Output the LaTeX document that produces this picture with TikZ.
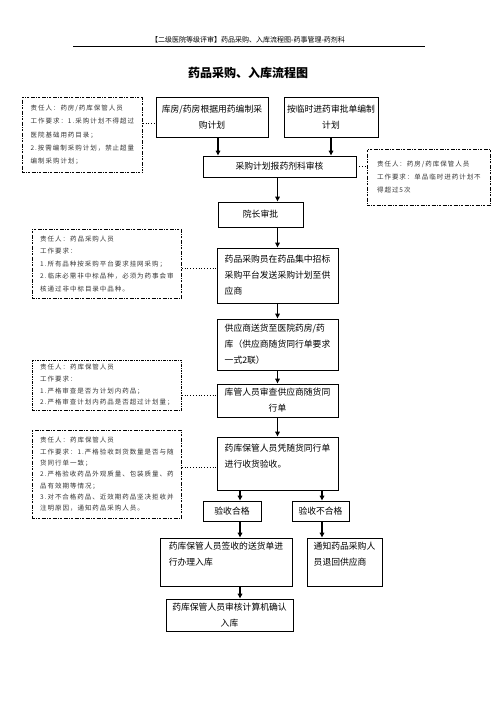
\documentclass[tikz,border=0pt]{standalone}
\usepackage{fontspec}
\setmainfont{Noto Sans CJK SC}
\newfontfamily\notefont[LetterSpace=15]{Noto Sans CJK SC}
\usetikzlibrary{arrows.meta}

\begin{document}
\begin{tikzpicture}[x=1pt, y=-1pt,
	box/.style={draw, line width=0.8pt, inner sep=3pt, font=\fontsize{8.8}{16}\selectfont},
	duty/.style={draw, line width=0.8pt, dash pattern=on 2.5pt off 1.2pt on 0.6pt off 1.2pt, anchor=north west, align=left, inner sep=4pt, text=black!80},
	flow/.style={-{Triangle[length=5pt, width=4.5pt]}, line width=1.3pt},
	link/.style={dotted, line width=0.8pt}]
	\useasboundingbox (0,0) rectangle (496,702);
	
	% Tiêu đề
	\node[font=\fontsize{7}{8}\selectfont] (header) at (248,40) {【二级医院等级评审】药品采购、入库流程图-药事管理-药剂科};
	\draw[line width=0.8pt] (73,46) -- (425,46);
	\node[font=\fontsize{12}{14}\selectfont\bfseries] (title) at (248,73) {药品采购、入库流程图};
	
	% Các bước chính
	\node[box, minimum width=112pt, minimum height=40pt, align=center] (plan) at (212,117) {库房/药房根据用药编制采\\购计划};
	\node[box, minimum width=92pt, minimum height=40pt, align=center] (temp) at (331,117) {按临时进药审批单编制\\计划};
	\node[box, minimum width=153pt, minimum height=21pt] (review) at (279.5,166.5) {采购计划报药剂科审核};
	\node[box, minimum width=85pt, minimum height=25pt] (approve) at (260.5,214.5) {院长审批};
	\node[box, minimum width=121pt, minimum height=55pt, align=left] (send) at (277.5,275.5) {药品采购员在药品集中招标\\采购平台发送采购计划至供\\应商};
	\node[box, minimum width=121pt, minimum height=51pt, align=left] (deliver) at (277.5,344.5) {供应商送货至医院药房/药\\库（供应商随货同行单要求\\一式2联）};
	\node[box, minimum width=121pt, minimum height=33pt, align=center] (check) at (277.5,400.5) {库管人员审查供应商随货同\\行单};
	\node[box, minimum width=121pt, minimum height=53pt, align=left] (accept) at (277.5,463.5) {药库保管人员凭随货同行单\\进行收货验收。\\\mbox{}};
	\node[box, minimum width=58pt, minimum height=20pt] (pass) at (232,511) {验收合格};
	\node[box, minimum width=57pt, minimum height=20pt] (fail) at (320.5,511) {验收不合格};
	\node[box, minimum width=132pt, minimum height=48pt, align=left] (store) at (226,562) {药库保管人员签收的送货单进\\行办理入库\\\mbox{}};
	\node[box, minimum width=75pt, minimum height=48pt, align=left] (back) at (344.5,562) {通知药品采购人\\员退回供应商\\\mbox{}};
	\node[box, minimum width=127pt, minimum height=32pt, align=center] (confirm) at (229.5,615) {药库保管人员审核计算机确认\\入库};
	
	% Trách nhiệm
	\node[duty, minimum width=120pt, minimum height=75pt, font=\notefont\fontsize{6.5}{13.3}\selectfont] (dutyA) at (22,97) {责任人：药房/药库保管人员\\工作要求：1.采购计划不得超过\\医院基础用药目录；\\2.按需编制采购计划，禁止超量\\编制采购计划；};
	\node[duty, minimum width=123pt, minimum height=56pt, font=\notefont\fontsize{6.5}{13}\selectfont] (dutyB) at (367,149) {责任人：药房/药库保管人员\\工作要求：单品临时进药计划不\\得超过5次};
	\node[duty, minimum width=149pt, minimum height=69pt, font=\notefont\fontsize{6.5}{12.4}\selectfont] (dutyC) at (32,229) {责任人：药品采购人员\\工作要求：\\1.所有品种按采购平台要求挂网采购；\\2.临床必需非中标品种，必须为药事会审\\核通过非中标目录中品种。};
	\node[duty, minimum width=149pt, minimum height=48pt, font=\notefont\fontsize{6.5}{11.7}\selectfont] (dutyD) at (32,360) {责任人：药库保管人员\\工作要求：\\1.严格审查是否为计划内药品；\\2.严格审查计划内药品是否超过计划量；};
	\node[duty, minimum width=149pt, minimum height=88pt, font=\notefont\fontsize{6.5}{11.3}\selectfont] (dutyE) at (32,430) {责任人：药库保管人员\\工作要求：1.严格验收到货数量是否与随\\货同行单一致；\\2.严格验收药品外观质量、包装质量、药\\品有效期等情况；\\3.对不合格药品、近效期药品坚决拒收并\\注明原因，通知药品采购人员。};
	
	% Mũi tên
	\coordinate (planout) at ([xshift=6pt]plan.south);
	\coordinate (passin) at ([xshift=8pt]pass.north);
	\coordinate (failin) at ([xshift=1.5pt]fail.north);
	\draw[flow] (planout) -- (planout |- review.north);
	\draw[flow] (temp.south) -- (temp.south |- review.north);
	\draw[flow] (send.north |- review.south) -- (send.north |- approve.north);
	\draw[flow] (send.north |- approve.south) -- (send.north);
	\draw[flow] (send) -- (deliver);
	\draw[flow] (deliver) -- (check);
	\draw[flow] (check) -- (accept);
	\draw[flow] (passin |- accept.south) -- (passin);
	\draw[flow] (failin |- accept.south) -- (failin);
	\draw[flow] (passin |- pass.south) -- (passin |- store.north);
	\draw[flow] (failin |- fail.south) -- (failin |- back.north);
	\draw[flow] (passin |- store.south) -- (passin |- confirm.north);
	
	% Nét chấm
	\coordinate (pA) at ([yshift=-6pt]plan.west);
	\coordinate (pC) at ([yshift=7pt]send.west);
	\coordinate (pD) at ([yshift=5pt]check.west);
	\coordinate (pE) at ([yshift=-4pt]accept.west);
	\draw[link] (pA -| dutyA.east) -- (pA);
	\draw[link] (review.east) -- (review.east -| dutyB.west);
	\draw[link] (pC -| dutyC.east) -- (pC);
	\draw[link] (pD -| dutyD.east) -- (pD);
	\draw[link] (pE -| dutyE.east) -- (pE);
\end{tikzpicture}
\end{document}
